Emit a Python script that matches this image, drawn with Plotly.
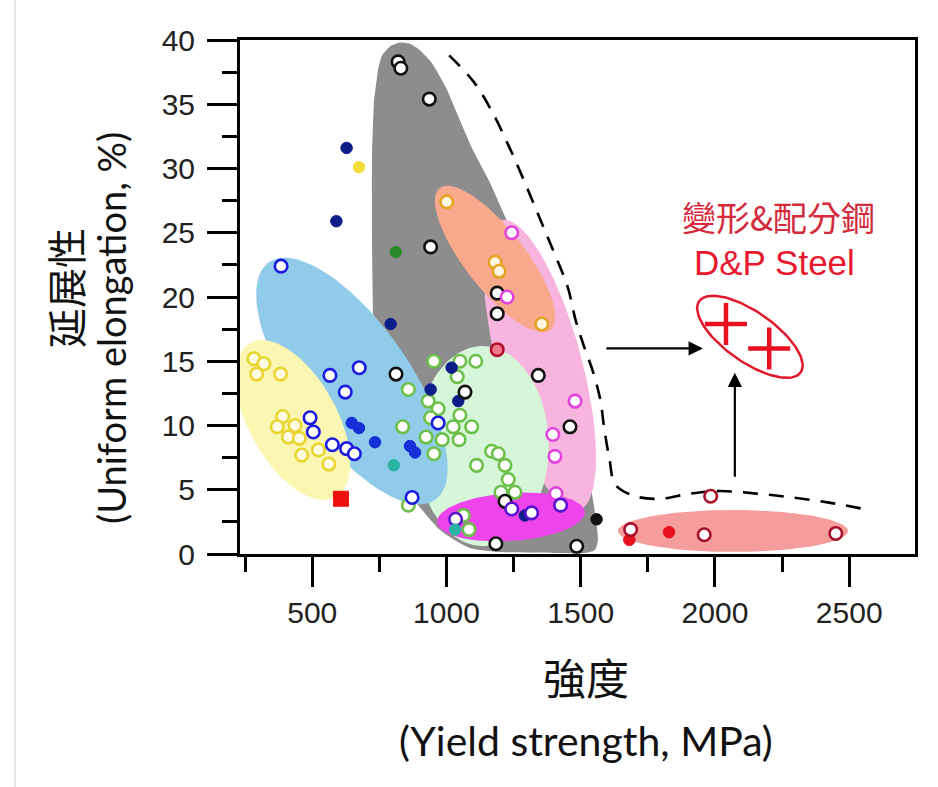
import numpy as np
import plotly.graph_objects as go

# ---------------- data (yield strength MPa, uniform elongation %) ----------------
black_open_x = [820, 830, 936, 941, 1189, 1189, 1342, 1460, 812, 1069, 1184, 1485, 1218]
black_open_y = [38.3, 37.8, 35.4, 23.9, 20.3, 18.7, 13.9, 9.9, 14.0, 12.6, 0.8, 0.6, 4.1]
black_fill_x = [1559]
black_fill_y = [2.7]
navy_fill_x = [628, 590, 792, 1019, 941, 1044, 1292]
navy_fill_y = [31.6, 25.9, 17.9, 14.5, 12.8, 11.9, 3.0]
blue_fill_x = [647, 674, 734, 864, 883]
blue_fill_y = [10.2, 9.8, 8.7, 8.4, 7.9]
blue_open_x = [384, 566, 675, 623, 492, 504, 575, 628, 657, 969, 872]
blue_open_y = [22.4, 13.9, 14.5, 12.6, 10.6, 9.5, 8.5, 8.2, 7.8, 10.2, 4.4]
purple_open_x = [1034, 1243, 1317, 1425]
purple_open_y = [2.7, 3.5, 3.2, 3.8]
yellow_open_x = [283, 320, 293, 382, 390, 370, 436, 411, 452, 523, 461, 562]
yellow_open_y = [15.2, 14.8, 14.0, 14.0, 10.7, 9.9, 10.0, 9.1, 9.0, 8.1, 7.7, 7.0]
yellow_fill_x = [674]
yellow_fill_y = [30.1]
green_fill_x = [811]
green_fill_y = [23.5]
teal_fill_x = [804, 1032]
teal_fill_y = [6.9, 1.9]
green_open_x = [953, 1050, 1109, 1040, 932, 969, 941, 1050, 1025, 1094, 924, 984, 1047,
                953, 1112, 1168, 1193, 1218, 1230, 1203, 1255, 858, 837, 858, 1063, 1084]
green_open_y = [15.0, 15.0, 15.0, 13.8, 11.9, 11.3, 10.6, 10.8, 9.9, 9.9, 9.1, 8.9, 8.9,
                7.8, 6.9, 8.0, 7.8, 6.9, 5.8, 4.8, 4.8, 12.8, 9.9, 3.8, 3.0, 1.9]
orange_open_x = [1001, 1181, 1196, 1355]
orange_open_y = [27.4, 22.7, 22.0, 17.9]
pink_open_x = [1243, 1226, 1479, 1396, 1404, 1408]
pink_open_y = [25.0, 20.0, 11.9, 9.3, 7.6, 4.7]
crimson_open_x = [1189]
crimson_open_y = [15.9]
red_square_x = [607]
red_square_y = [4.3]
darkred_open_x = [1686, 1960, 2450, 1984]
darkred_open_y = [1.9, 1.5, 1.6, 4.5]
red_fill_x = [1681, 1829]
red_fill_y = [1.1, 1.7]
dp_x = [2041, 2202]
dp_y = [17.9, 16.0]

# dashed boundary
bound_x = [1010, 1103, 1173, 1233, 1288, 1344, 1396, 1451, 1481, 1510, 1547, 1573, 1588,
           1607, 1629, 1703, 1796, 1907, 2018, 2155, 2288, 2425, 2555]
bound_y = [38.8, 36.7, 34.3, 31.7, 29.1, 26.3, 23.7, 20.8, 18.2, 16.3, 14.1, 12.0, 9.7,
           7.4, 5.4, 4.5, 4.3, 4.7, 4.9, 4.7, 4.4, 4.0, 3.5]

# gray region outline
gray_x = [745, 760, 790, 827, 864, 901, 946, 998, 1043, 1095, 1162, 1237, 1311, 1374,
          1423, 1467, 1505, 1534, 1557, 1564, 1553, 1516, 1423, 1199, 1088, 976, 827,
          752, 730, 723, 723, 730]
gray_y = [37.7, 38.8, 39.5, 39.8, 39.7, 39.2, 38.2, 36.3, 34.1, 31.6, 28.9, 25.4, 22.2,
          19.1, 16.3, 13.5, 9.65, 5.76, 2.65, 1.09, 0.31, 0.08, 0.08, 0.16, 0.47, 1.87,
          5.76, 10.4, 15.9, 23.7, 31.4, 35.3]

XR = [231, 2745]
YR = [0, 40]
L, R, T, B = 240, 23, 40, 233
W, H = 938, 787
PXX = (W - L - R) / (XR[1] - XR[0])
PXY = (H - T - B) / (YR[1] - YR[0])


def ellipse(cx, cy, a, b, ang, n=120):
    t = np.linspace(0, 2 * np.pi, n)
    th = np.radians(ang)
    dx = a * np.cos(t) * np.cos(th) - b * np.sin(t) * np.sin(th)
    dy = a * np.cos(t) * np.sin(th) + b * np.sin(t) * np.cos(th)
    return cx + dx / PXX, cy - dy / PXY


fig = go.Figure()


def region(xs, ys, color, spline=False):
    fig.add_trace(go.Scatter(x=list(xs), y=list(ys), mode="lines", fill="toself",
                             fillcolor=color, line=dict(width=0, color=color,
                                                        shape="spline" if spline else "linear",
                                                        smoothing=0.6),
                             hoverinfo="skip", showlegend=False))


region(gray_x, gray_y, "#8d8d8d", spline=True)
region(*ellipse(1348, 14.7, 150, 42, 75), "#f6b4df")
region(*ellipse(1181, 22.96, 90, 30, 52), "#f8a98b")
region(*ellipse(1135, 8.4, 66, 100, 0), "#d6f6da")
region(*ellipse(648, 13.46, 145, 58, 55), "#91cbea")
region(*ellipse(428, 10.43, 88, 44, 61), "#fbf6b2")
region(*ellipse(1240, 2.88, 74, 24, -4), "#ee44ec")
region(*ellipse(2067, 1.79, 115, 21, 0), "#f59c9c")

# D&P ellipse outline
ex, ey = ellipse(2130, 16.9, 62, 25, 35)
fig.add_trace(go.Scatter(x=ex, y=ey, mode="lines", line=dict(color="#e0182a", width=2.5),
                         hoverinfo="skip", showlegend=False))

# dashed boundary
fig.add_trace(go.Scatter(x=bound_x, y=bound_y, mode="lines",
                         line=dict(color="black", width=2.6, dash="15px,11px", shape="spline"),
                         hoverinfo="skip", showlegend=False))


def pts(xs, ys, fill, edge, size=12.5, lw=2.6, symbol="circle"):
    fig.add_trace(go.Scatter(x=xs, y=ys, mode="markers",
                             marker=dict(symbol=symbol, size=size, color=fill,
                                         line=dict(color=edge, width=lw)),
                             hoverinfo="skip", showlegend=False))


pts(yellow_open_x, yellow_open_y, "#fffbe2", "#e9d531")
pts(green_open_x, green_open_y, "#ffffff", "#6cc04a")
pts(blue_open_x, blue_open_y, "#ffffff", "#1c1ce0")
pts(blue_fill_x, blue_fill_y, "#1630d8", "#1630d8", size=11.5, lw=1)
pts(navy_fill_x, navy_fill_y, "#0c1d8a", "#0c1d8a", size=11.5, lw=1)
pts(black_open_x, black_open_y, "#ffffff", "#111111")
pts(black_fill_x, black_fill_y, "#111111", "#111111", size=11.5, lw=1)
pts(orange_open_x, orange_open_y, "#fff6e0", "#e3a324")
pts(pink_open_x, pink_open_y, "#ffffff", "#e044dc")
pts(crimson_open_x, crimson_open_y, "#f07a8a", "#b0102c")
pts(purple_open_x, purple_open_y, "#ffffff", "#5a12d2")
pts(yellow_fill_x, yellow_fill_y, "#f6dc3a", "#f6dc3a", size=11.5, lw=1)
pts(green_fill_x, green_fill_y, "#2a8a2a", "#2a8a2a", size=11.5, lw=1)
pts(teal_fill_x, teal_fill_y, "#2ab3a3", "#2ab3a3", size=11.5, lw=1)
pts(red_square_x, red_square_y, "#ee1111", "#ee1111", size=15, lw=1, symbol="square")
pts(red_fill_x, red_fill_y, "#e8101e", "#e8101e", size=11.5, lw=1)
pts(darkred_open_x, darkred_open_y, "#ffffff", "#a8102a")
pts(dp_x, dp_y, "#e81020", "#e81020", size=30, lw=4.5, symbol="cross-thin")

# arrows
fig.add_annotation(x=1955, y=16.0, ax=1590, ay=16.0, xref="x", yref="y", axref="x", ayref="y",
                   text="", showarrow=True, arrowhead=2, arrowsize=1.3, arrowwidth=2.2,
                   arrowcolor="black")
fig.add_annotation(x=2074, y=14.1, ax=2074, ay=5.9, xref="x", yref="y", axref="x", ayref="y",
                   text="", showarrow=True, arrowhead=2, arrowsize=1.3, arrowwidth=2.2,
                   arrowcolor="black")

# texts in plot
fig.add_annotation(x=2238, y=26.3, xref="x", yref="y", text="變形&配分鋼", showarrow=False,
                   xanchor="center", yanchor="middle",
                   font=dict(family="Noto Sans CJK TC", size=34, color="#d42a3c"))
fig.add_annotation(x=2223, y=22.65, xref="x", yref="y", text="D&P Steel", showarrow=False,
                   xanchor="center", yanchor="middle",
                   font=dict(family="Liberation Sans", size=35, color="#e8182e"))

# axis titles
fig.add_annotation(x=-0.2593, y=0.5175, xref="paper", yref="paper", text="延展性",
                   textangle=-90, showarrow=False, xanchor="center", yanchor="middle",
                   font=dict(family="Noto Sans CJK TC", size=40, color="#111111"))
fig.add_annotation(x=-0.1911, y=0.4397, xref="paper", yref="paper",
                   text="(Uniform elongation, %)", textangle=-90, showarrow=False,
                   xanchor="center", yanchor="middle",
                   font=dict(family="Lato", size=38, color="#111111"))
fig.add_annotation(x=0.5126, y=-0.2374, xref="paper", yref="paper", text="強度",
                   showarrow=False, xanchor="center", yanchor="middle",
                   font=dict(family="Noto Sans CJK TC", size=43, color="#111111"))
fig.add_annotation(x=0.5126, y=-0.3619, xref="paper", yref="paper",
                   text="(Yield strength, MPa)", showarrow=False,
                   xanchor="center", yanchor="middle",
                   font=dict(family="Lato", size=41, color="#111111"))

# faint page border at left
fig.add_shape(type="line", xref="paper", yref="paper", x0=(15 - L) / (W - L - R),
              x1=(15 - L) / (W - L - R), y0=-B / (H - T - B), y1=1 + T / (H - T - B),
              line=dict(color="#dddddd", width=1.5))

axis_common = dict(showgrid=False, zeroline=False, showline=True, linecolor="black",
                   linewidth=3, mirror=True, ticks="outside", ticklen=30, tickwidth=3,
                   tickcolor="black",
                   tickfont=dict(family="Liberation Sans", size=30, color="#222222"))
fig.update_xaxes(range=XR, tick0=0, dtick=500,
                 minor=dict(ticks="outside", ticklen=15, tickwidth=3, tickcolor="black",
                            tick0=0, dtick=250),
                 **axis_common)
fig.update_yaxes(range=YR, tick0=0, dtick=5, ticklabelstandoff=6,
                 minor=dict(ticks="outside", ticklen=15, tickwidth=3, tickcolor="black",
                            tick0=0, dtick=2.5),
                 **axis_common)

fig.update_layout(width=W, height=H, margin=dict(l=L, r=R, t=T, b=B),
                  paper_bgcolor="white", plot_bgcolor="white", showlegend=False)

fig.write_html("out.html")
